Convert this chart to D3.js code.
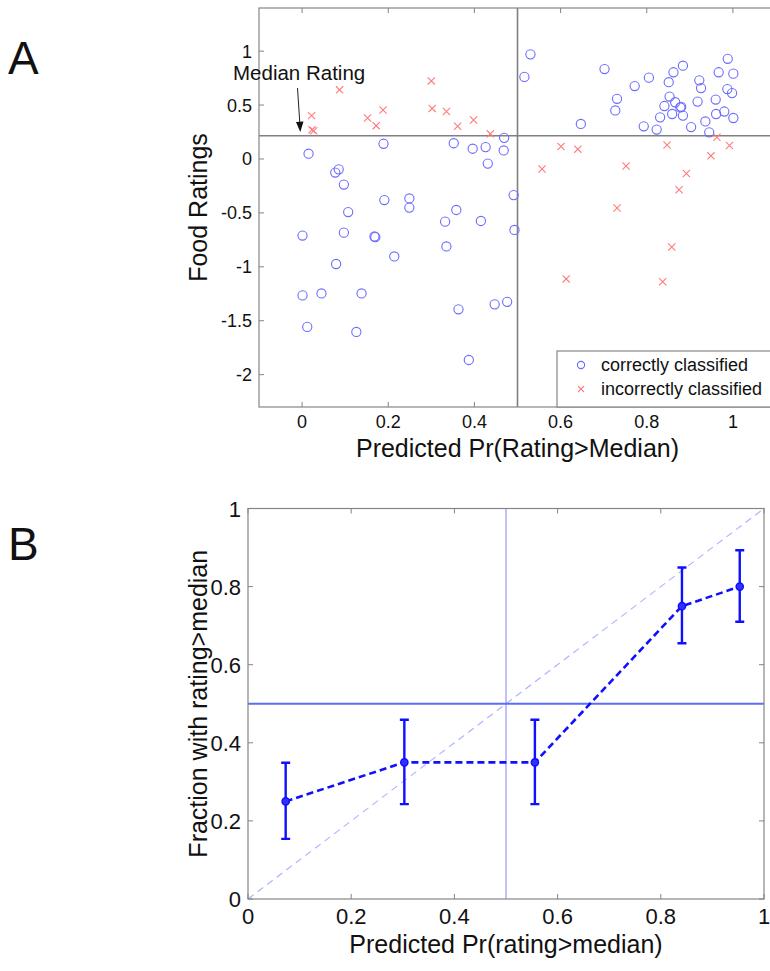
<!DOCTYPE html>
<html>
<head>
<meta charset="utf-8">
<script src="https://cdn.jsdelivr.net/npm/d3@7"></script>
<style>
  body { margin: 0; background: #fff; }
  text { font-family: "Liberation Sans", Arial, sans-serif; fill: #111; }
</style>
</head>
<body>
<div id="chart"></div>
<script>
///////////////////////////// DATA /////////////////////////////////////

// Panel A - correctly classified (predicted prob, food rating)
correctX = [0.015, 0.085, 0.077, 0.097, 0.189, 0.191, 0.249, 0.249, 0.352, 0.396, 0.426, 0.431,
    0.469, 0.468, 0.491, 0.107, 0.358, 0.001, 0.097, 0.168, 0.170, 0.079, 0.214, 0.332, 0.335,
    0.415, 0.493, 0.001, 0.045, 0.138, 0.012, 0.126, 0.363, 0.447, 0.476, 0.387,
    0.530, 0.516, 0.702, 0.647, 0.731, 0.727, 0.772, 0.805, 0.793, 0.823, 0.831, 0.841, 0.851,
    0.853, 0.862, 0.866, 0.878, 0.880, 0.859, 0.884, 0.884, 0.903, 0.918, 0.922, 0.926, 0.936,
    0.945, 0.960, 0.961, 0.967, 0.980, 0.988, 0.987, 0.998, 1.001, 1.001];
correctY = [0.049, -0.096, -0.126, -0.237, 0.141, -0.381, -0.366, -0.451, 0.146, 0.095, 0.110, -0.043,
    0.196, 0.079, -0.335, -0.492, -0.473, -0.710, -0.683, -0.719, -0.725, -0.974, -0.904, -0.581, -0.811,
    -0.575, -0.658, -1.265, -1.247, -1.247, -1.557, -1.604, -1.394, -1.348, -1.325, -1.864,
    0.970, 0.761, 0.834, 0.325, 0.558, 0.450, 0.676, 0.754, 0.303, 0.273, 0.386, 0.491, 0.712,
    0.579, 0.804, 0.526, 0.478, 0.484, 0.417, 0.402, 0.865, 0.296, 0.532, 0.729, 0.657, 0.348,
    0.247, 0.551, 0.417, 0.804, 0.440, 0.929, 0.648, 0.611, 0.791, 0.380];

// Panel A - incorrectly classified
wrongX = [0.022, 0.023, 0.027, 0.087, 0.152, 0.172, 0.188, 0.300, 0.302, 0.335, 0.361, 0.398, 0.437,
    0.601, 0.640, 0.557, 0.752, 0.847, 0.892, 0.875, 0.949, 0.963, 0.992, 0.731, 0.858, 0.613, 0.837];
wrongY = [0.402, 0.270, 0.261, 0.641, 0.380, 0.309, 0.454, 0.724, 0.469, 0.441, 0.303, 0.362, 0.233,
    0.116, 0.091, -0.093, -0.065, 0.130, -0.135, -0.286, 0.029, 0.202, 0.125, -0.455, -0.817, -1.112, -1.139];

medianRating = 0.215;

xTicksA = [0, 0.2, 0.4, 0.6, 0.8, 1];
yTicksA = [-2, -1.5, -1, -0.5, 0, 0.5, 1];

// Panel B - calibration bins
binPred = [0.073, 0.303, 0.556, 0.841, 0.953];
binFrac = [0.25, 0.35, 0.35, 0.75, 0.80];
binLow = [0.154, 0.243, 0.243, 0.655, 0.71];
binHigh = [0.349, 0.459, 0.459, 0.849, 0.893];

ticksB = [0, 0.2, 0.4, 0.6, 0.8, 1];

///////////////////////////// SETUP /////////////////////////////////////

width = 770;
height = 971;
axisColor = "#858585";
tickLen = 5;

svg = d3.select("#chart").append("svg")
    .attr("width", width)
    .attr("height", height);

// matlab-like box with inward ticks on all sides
function drawBox(g, x, y, xTicks, yTicks) {
    var x0 = x.range()[0], x1 = x.range()[1];
    var y0 = y.range()[0], y1 = y.range()[1];
    g.append("rect")
        .attr("x", x0).attr("y", y1)
        .attr("width", x1 - x0).attr("height", y0 - y1)
        .attr("fill", "none")
        .attr("stroke", axisColor)
        .attr("stroke-width", 1.2);
    xTicks.forEach(function(t) {
        g.append("line").attr("x1", x(t)).attr("x2", x(t)).attr("y1", y0).attr("y2", y0 - tickLen)
            .attr("stroke", axisColor);
        g.append("line").attr("x1", x(t)).attr("x2", x(t)).attr("y1", y1).attr("y2", y1 + tickLen)
            .attr("stroke", axisColor);
    });
    yTicks.forEach(function(t) {
        g.append("line").attr("x1", x0).attr("x2", x0 + tickLen).attr("y1", y(t)).attr("y2", y(t))
            .attr("stroke", axisColor);
        g.append("line").attr("x1", x1).attr("x2", x1 - tickLen).attr("y1", y(t)).attr("y2", y(t))
            .attr("stroke", axisColor);
    });
}

///////////////////////////// PANEL A /////////////////////////////////////

xA = d3.scaleLinear().domain([-0.1, 1.1]).range([259, 776]);
yA = d3.scaleLinear().domain([-2.3, 1.4]).range([407, 8]);

gA = svg.append("g");

// median + 0.5 reference lines
gA.append("line")
    .attr("x1", xA(-0.1)).attr("x2", xA(1.1))
    .attr("y1", yA(medianRating)).attr("y2", yA(medianRating))
    .attr("stroke", "#808080").attr("stroke-width", 1.6);
gA.append("line")
    .attr("x1", xA(0.5)).attr("x2", xA(0.5))
    .attr("y1", yA(1.4)).attr("y2", yA(-2.3))
    .attr("stroke", "#808080").attr("stroke-width", 1.6);

// correctly classified circles
gA.selectAll(".ok")
    .data(d3.zip(correctX, correctY))
    .enter().append("circle")
    .attr("class", "ok")
    .attr("cx", d => xA(d[0]))
    .attr("cy", d => yA(d[1]))
    .attr("r", 4.6)
    .attr("fill", "none")
    .attr("stroke", "#6b6bff")
    .attr("stroke-width", 1.1);

// incorrectly classified crosses
xSize = 3.6;
gA.selectAll(".bad")
    .data(d3.zip(wrongX, wrongY))
    .enter().append("path")
    .attr("class", "bad")
    .attr("d", function(d) {
        var cx = xA(d[0]), cy = yA(d[1]);
        return `M${cx - xSize},${cy - xSize}L${cx + xSize},${cy + xSize}M${cx - xSize},${cy + xSize}L${cx + xSize},${cy - xSize}`;
    })
    .attr("stroke", "#ff7b7b")
    .attr("stroke-width", 1.1)
    .attr("fill", "none");

drawBox(gA, xA, yA, xTicksA, yTicksA);

// tick labels
gA.selectAll(".xl")
    .data(xTicksA).enter().append("text")
    .attr("x", d => xA(d))
    .attr("y", 428)
    .attr("text-anchor", "middle")
    .style("font-size", "18px")
    .text(d => d);
gA.selectAll(".yl")
    .data(yTicksA).enter().append("text")
    .attr("x", 252)
    .attr("y", d => yA(d) + 6.5)
    .attr("text-anchor", "end")
    .style("font-size", "18px")
    .text(d => d);

// legend
legend = gA.append("g");
legend.append("rect")
    .attr("x", 557).attr("y", 351)
    .attr("width", 225).attr("height", 56)
    .attr("fill", "#fff")
    .attr("stroke", axisColor)
    .attr("stroke-width", 1.2);
legend.append("circle")
    .attr("cx", 581).attr("cy", 365)
    .attr("r", 3.6)
    .attr("fill", "none").attr("stroke", "#6b6bff").attr("stroke-width", 1.1);
legend.append("path")
    .attr("d", "M578,386L584,392M578,392L584,386")
    .attr("stroke", "#ff7b7b").attr("stroke-width", 1.1);
legend.append("text").attr("x", 601).attr("y", 371).style("font-size", "18px").text("correctly classified");
legend.append("text").attr("x", 601).attr("y", 395).style("font-size", "18px").text("incorrectly classified");

// Median Rating annotation
gA.append("text")
    .attr("x", 233).attr("y", 80)
    .style("font-size", "20.5px")
    .text("Median Rating");
gA.append("line")
    .attr("x1", 297.5).attr("y1", 88)
    .attr("x2", 300).attr("y2", 126)
    .attr("stroke", "#222").attr("stroke-width", 1);
gA.append("path")
    .attr("d", "M296,122L300.3,132L303.5,121.5Z")
    .attr("fill", "#111");

// axis labels
gA.append("text")
    .attr("x", xA(0.5)).attr("y", 457)
    .attr("text-anchor", "middle")
    .style("font-size", "25px")
    .text("Predicted Pr(Rating>Median)");
gA.append("text")
    .attr("transform", `translate(207, ${(yA(1.4) + yA(-2.3)) / 2}) rotate(-90)`)
    .attr("text-anchor", "middle")
    .style("font-size", "25px")
    .text("Food Ratings");

gA.append("text").attr("x", 8).attr("y", 74).style("font-size", "46px").text("A");

///////////////////////////// PANEL B /////////////////////////////////////

xB = d3.scaleLinear().domain([0, 1]).range([248, 764]);
yB = d3.scaleLinear().domain([0, 1]).range([899, 508.5]);

gB = svg.append("g");

// diagonal reference
gB.append("line")
    .attr("x1", xB(0)).attr("y1", yB(0))
    .attr("x2", xB(1)).attr("y2", yB(1))
    .attr("stroke", "#aab2ff")
    .attr("stroke-width", 1.1)
    .attr("stroke-dasharray", "7,5");
// 0.5 cross lines
gB.append("line")
    .attr("x1", xB(0.5)).attr("x2", xB(0.5))
    .attr("y1", yB(0)).attr("y2", yB(1))
    .attr("stroke", "#8c8cff").attr("stroke-width", 1.1);
gB.append("line")
    .attr("x1", xB(0)).attr("x2", xB(1))
    .attr("y1", yB(0.5)).attr("y2", yB(0.5))
    .attr("stroke", "#5a6cff").attr("stroke-width", 1.8);

binData = binPred.map((p, i) => ({ p: p, f: binFrac[i], lo: binLow[i], hi: binHigh[i] }));

// error bars
capW = 4.5;
gB.selectAll(".err")
    .data(binData).enter().append("path")
    .attr("class", "err")
    .attr("d", d => `M${xB(d.p)},${yB(d.lo)}L${xB(d.p)},${yB(d.hi)}` +
        `M${xB(d.p) - capW},${yB(d.lo)}L${xB(d.p) + capW},${yB(d.lo)}` +
        `M${xB(d.p) - capW},${yB(d.hi)}L${xB(d.p) + capW},${yB(d.hi)}`)
    .attr("stroke", "#1010ff")
    .attr("stroke-width", 2.4)
    .attr("fill", "none");

lineB = d3.line().x(d => xB(d.p)).y(d => yB(d.f));
gB.append("path")
    .datum(binData)
    .attr("d", lineB)
    .attr("fill", "none")
    .attr("stroke", "#1010ff")
    .attr("stroke-width", 2.6)
    .attr("stroke-dasharray", "7,4");

gB.selectAll(".pt")
    .data(binData).enter().append("circle")
    .attr("cx", d => xB(d.p))
    .attr("cy", d => yB(d.f))
    .attr("r", 3.6)
    .attr("fill", "#3030ff")
    .attr("stroke", "#1010ff")
    .attr("stroke-width", 1.5);

drawBox(gB, xB, yB, ticksB, ticksB);

gB.selectAll(".xl")
    .data(ticksB).enter().append("text")
    .attr("x", d => xB(d))
    .attr("y", 924)
    .attr("text-anchor", "middle")
    .style("font-size", "22px")
    .text(d => d);
gB.selectAll(".yl")
    .data(ticksB).enter().append("text")
    .attr("x", 241)
    .attr("y", d => yB(d) + 8)
    .attr("text-anchor", "end")
    .style("font-size", "22px")
    .text(d => d);

gB.append("text")
    .attr("x", xB(0.5)).attr("y", 953)
    .attr("text-anchor", "middle")
    .style("font-size", "25px")
    .text("Predicted Pr(rating>median)");
gB.append("text")
    .attr("transform", `translate(207, ${(yB(0) + yB(1)) / 2}) rotate(-90)`)
    .attr("text-anchor", "middle")
    .style("font-size", "25px")
    .text("Fraction with rating>median");

gB.append("text").attr("x", 8).attr("y", 560).style("font-size", "46px").text("B");
</script>
</body>
</html>
